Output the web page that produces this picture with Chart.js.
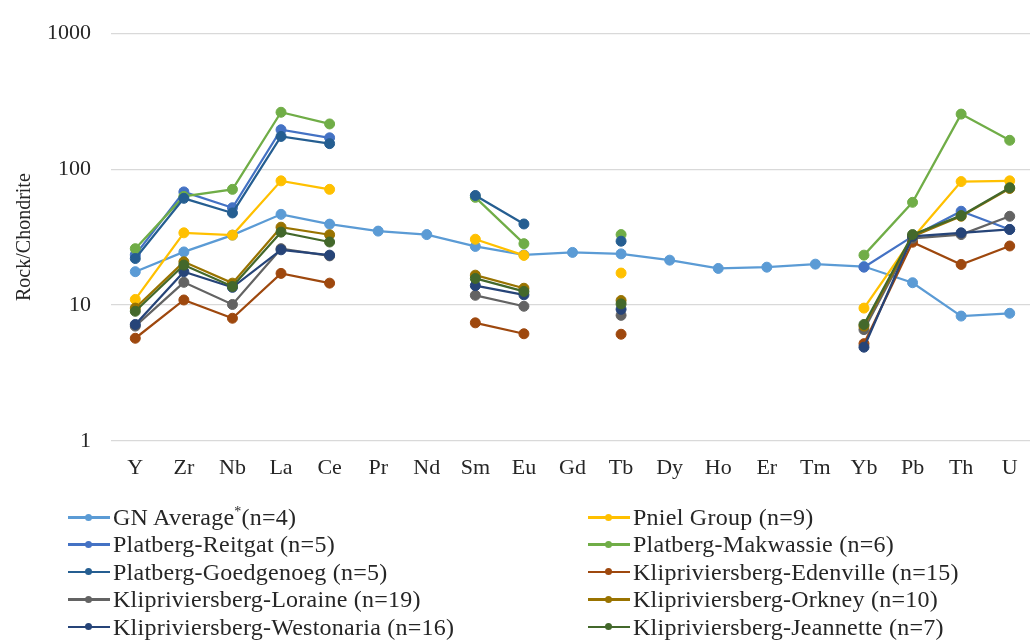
<!DOCTYPE html>
<html>
<head>
<meta charset="utf-8">
<script src="https://cdn.jsdelivr.net/npm/chart.js@4.4.1/dist/chart.umd.min.js"></script>
<style>
  html, body { margin: 0; padding: 0; background: #ffffff; overflow: hidden; width: 1030px; height: 640px; }
  #wrap { position: absolute; left: 0; top: 0; width: 1040px; height: 481px; }
  #legend { position: absolute; left: 0; top: 0; width: 1030px; height: 640px; pointer-events: none;
            font-family: "Liberation Serif", "Times New Roman", serif; font-size: 24px; color: #262626;
            letter-spacing: 0.25px; }
  .item { position: absolute; height: 28px; line-height: 28px; white-space: nowrap; }
  .mark { position: absolute; left: 0; top: 13px; width: 42px; height: 2.5px; }
  .dot { position: absolute; left: 17px; top: -2.5px; width: 7px; height: 7px; border-radius: 50%; }
  .txt { position: absolute; left: 45px; top: 0; }
  sup { font-size: 14px; vertical-align: 9px; line-height: 0; }
</style>
</head>
<body>
<div id="wrap"><canvas id="chart"></canvas></div>
<div id="legend"></div>
<script>
// Element order along the x axis
const elements = ['Y','Zr','Nb','La','Ce','Pr','Nd','Sm','Eu','Gd','Tb','Dy','Ho','Er','Tm','Yb','Pb','Th','U'];

// Chondrite-normalised concentrations (null = not analysed)
const gnAverage   = [17.6, 24.6, 32.7, 46.5, 39.4, 35.0, 33.0, 27.0, 23.4, 24.4, 23.8, 21.4, 18.6, 19.0, 20.0, 19.2, 14.6, 8.3, 8.7];
const pniel       = [11.0, 34.0, 32.7, 82.0, 71.0, null, null, 30.5, 23.2, null, 17.2, null, null, null, null, 9.5, 31.0, 81.0, 82.0];
const reitgat     = [23.4, 68.0, 52.0, 195.0, 170.0, null, null, null, null, null, null, null, null, null, null, 19.0, 32.0, 49.0, 36.0];
const makwassie   = [26.0, 63.0, 71.0, 262.0, 215.0, null, null, 62.0, 28.3, null, 33.0, null, null, null, null, 23.3, 57.0, 254.0, 163.0];
const goedgenoeg  = [22.0, 61.0, 47.6, 174.0, 154.0, null, null, 64.0, 39.5, null, 29.5, null, null, null, null, null, null, null, null];
const edenville   = [5.7, 10.9, 8.0, 17.1, 14.5, null, null, 7.4, 6.15, null, 6.1, null, null, null, null, 5.2, 29.0, 19.9, 27.2];
const loraine     = [7.0, 14.7, 10.1, 26.0, 23.0, null, null, 11.8, 9.8, null, 8.4, null, null, null, null, 6.6, 31.0, 33.0, 45.0];
const orkney      = [9.5, 20.8, 14.5, 37.4, 32.9, null, null, 16.6, 13.3, null, 10.8, null, null, null, null, 7.0, 32.0, 45.0, 72.0];
const westonaria  = [7.2, 17.6, 13.5, 25.5, 23.3, null, null, 13.9, 11.9, null, 9.3, null, null, null, null, 4.9, 32.0, 34.0, 36.0];
const jeannette   = [9.0, 19.7, 13.7, 34.4, 29.1, null, null, 15.7, 12.6, null, 10.2, null, null, null, null, 7.2, 33.0, 45.5, 73.0];

const seriesLabels = [
  'GN Average*(n=4)', 'Pniel Group (n=9)',
  'Platberg-Reitgat (n=5)', 'Platberg-Makwassie (n=6)',
  'Platberg-Goedgenoeg (n=5)', 'Klipriviersberg-Edenville (n=15)',
  'Klipriviersberg-Loraine (n=19)', 'Klipriviersberg-Orkney (n=10)',
  'Klipriviersberg-Westonaria (n=16)', 'Klipriviersberg-Jeannette (n=7)'
];
const seriesValues = [gnAverage, pniel, reitgat, makwassie, goedgenoeg, edenville, loraine, orkney, westonaria, jeannette];
const seriesColors = ['#5B9BD5', '#FFC000', '#4472C4', '#70AD47', '#255E91', '#9E480E', '#636363', '#997300', '#264478', '#43682B'];

// Y-axis tick values (decades)
const yTicks = [1, 10, 100, 1000];

const serif = '"Liberation Serif", "Times New Roman", serif';
const textColor = '#262626';

const datasets = seriesValues.map((vals, i) => ({
  label: seriesLabels[i],
  data: vals,
  borderColor: seriesColors[i],
  backgroundColor: seriesColors[i],
  pointBackgroundColor: seriesColors[i],
  pointBorderColor: seriesColors[i],
  borderWidth: 2.25,
  pointRadius: 5,
  pointBorderWidth: 1,
  spanGaps: false,
  tension: 0,
  order: seriesValues.length - i
}));

const chart = new Chart(document.getElementById('chart'), {
  type: 'line',
  data: { labels: elements, datasets },
  options: {
    responsive: true,
    maintainAspectRatio: false,
    animation: false,
    layout: { padding: { top: 29, right: 4, left: 0, bottom: 0 } },
    plugins: {
      legend: { display: false },
      tooltip: { enabled: false }
    },
    scales: {
      x: {
        type: 'category',
        offset: true,
        grid: { display: false, drawTicks: false },
        border: { display: false },
        ticks: {
          color: textColor,
          font: { family: serif, size: 22 },
          padding: 14,
          maxRotation: 0,
          autoSkip: false
        },
        afterFit: s => { s.height = 40; }
      },
      y: {
        type: 'logarithmic',
        min: 1,
        max: 1000,
        grid: { color: '#D9D9D9', lineWidth: 1.2, drawTicks: false },
        border: { display: false },
        afterBuildTicks: s => { s.ticks = yTicks.map(v => ({ value: v })); },
        ticks: {
          color: textColor,
          font: { family: serif, size: 22 },
          padding: 20,
          callback: v => String(v)
        },
        title: {
          display: true,
          text: 'Rock/Chondrite',
          color: textColor,
          font: { family: serif, size: 20 },
          padding: { top: 13, bottom: 0 }
        },
        afterFit: s => { s.width = 111; }
      }
    }
  }
});

// Two-column legend built from the chart's datasets
const legend = document.getElementById('legend');
chart.data.datasets.forEach((ds, i) => {
  const col = i % 2, row = Math.floor(i / 2);
  const item = document.createElement('div');
  item.className = 'item';
  item.style.left = (col === 0 ? 68 : 588) + 'px';
  item.style.top = (503 + row * 27.4) + 'px';
  const mark = document.createElement('span');
  mark.className = 'mark';
  mark.style.background = ds.borderColor;
  const dot = document.createElement('span');
  dot.className = 'dot';
  dot.style.background = ds.borderColor;
  mark.appendChild(dot);
  const txt = document.createElement('span');
  txt.className = 'txt';
  const parts = ds.label.split('*');
  txt.textContent = parts[0];
  if (parts.length > 1) {
    const sup = document.createElement('sup');
    sup.textContent = '*';
    txt.appendChild(sup);
    txt.appendChild(document.createTextNode(parts[1]));
  }
  item.appendChild(mark);
  item.appendChild(txt);
  legend.appendChild(item);
});
</script>
</body>
</html>
